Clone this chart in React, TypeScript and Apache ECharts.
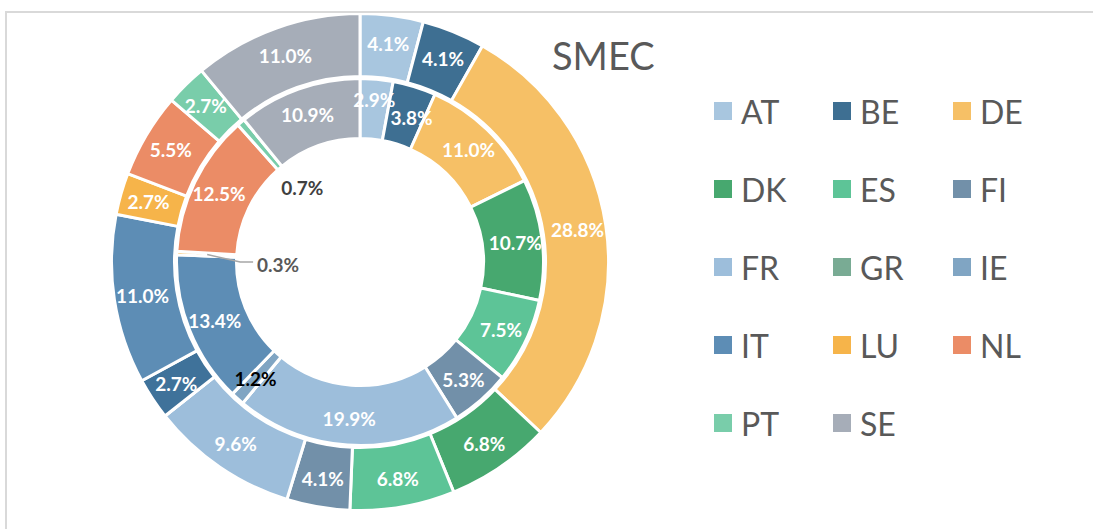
import React, { useEffect, useRef } from 'react';
import * as echarts from 'echarts';

const CATEGORIES = ['AT', 'BE', 'DE', 'DK', 'ES', 'FI', 'FR', 'GR', 'IE', 'IT', 'LU', 'NL', 'PT', 'SE'];
const OUTER_VALUES = [4.1, 4.1, 28.8, 6.8, 6.8, 4.1, 9.6, 0, 2.7, 11.0, 2.7, 5.5, 2.7, 11.0];
const INNER_VALUES = [2.9, 3.8, 11.0, 10.7, 7.5, 5.3, 19.9, 0, 1.2, 13.4, 0.3, 12.5, 0.7, 10.9];
const TITLE = 'SMEC';
const LEGEND_COLUMNS = [
  ['AT', 'DK', 'FR', 'IT', 'PT'],
  ['BE', 'ES', 'GR', 'LU', 'SE'],
  ['DE', 'FI', 'IE', 'NL'],
];

const COLORS: Record<string, string> = {
  AT: '#a8c6df',
  BE: '#3e6f92',
  DE: '#f6c066',
  DK: '#47a86f',
  ES: '#5dc497',
  FI: '#7290a9',
  FR: '#9dbedb',
  GR: '#79ab94',
  IE: '#80a5c3',
  IT: '#5d8db5',
  LU: '#f6b44a',
  NL: '#eb8c66',
  PT: '#79cdaa',
  SE: '#a6adb8',
};
const OUTER_COLOR_OVERRIDES: Record<string, string> = { IE: '#3f729a' };

const W = 1093;
const H = 529;
const CX = 360;
const CY = 262;
const FONT = 'Lato, "Noto Sans", sans-serif';
const TEXT_COLOR = '#595959';

const innerTotal = INNER_VALUES.reduce((a, b) => a + b, 0);
function innerMidAngle(i: number) {
  let s = 0;
  for (let j = 0; j < i; j++) s += INNER_VALUES[j];
  return ((s + INNER_VALUES[i] / 2) / innerTotal) * Math.PI * 2;
}
function pointAt(a: number, r: number): [number, number] {
  return [CX + r * Math.sin(a), CY - r * Math.cos(a)];
}

const fmt = (p: any) => `${Number(p.value).toFixed(1)}%`;

export default function App() {
  const ref = useRef<HTMLDivElement>(null);
  useEffect(() => {
    if (!ref.current) return;
    const chart = echarts.init(ref.current, null, { renderer: 'svg' });

    const atIdx = CATEGORIES.indexOf('AT');
    const beIdx = CATEGORIES.indexOf('BE');
    const luIdx = CATEGORIES.indexOf('LU');
    const ptIdx = CATEGORIES.indexOf('PT');

    const luAngle = innerMidAngle(luIdx);
    const luBase = pointAt(luAngle, 82);
    const luLabel: [number, number] = [luBase[0], luBase[1] + 6];
    const luStart = pointAt(luAngle, 153);
    const luLine = [luStart, [luStart[0] + 33, luLabel[1] - 2], [luLabel[0] - 25, luLabel[1] - 2]];

    const innerData = INNER_VALUES.map((v, i) => {
      const name = CATEGORIES[i];
      const item: any = { name, value: v, itemStyle: { color: COLORS[name] } };
      if (v === 0) item.label = { show: false };
      if (name === 'IE') item.label = { color: '#000000' };
      if (name === 'LU') item.label = { color: TEXT_COLOR };
      if (name === 'PT') item.label = { color: '#404040' };
      return item;
    });

    const outerData = OUTER_VALUES.map((v, i) => {
      const name = CATEGORIES[i];
      const item: any = {
        name,
        value: v,
        itemStyle: { color: OUTER_COLOR_OVERRIDES[name] || COLORS[name] },
      };
      if (v === 0) item.label = { show: false };
      return item;
    });

    const labelBase = {
      show: true,
      position: 'inside',
      formatter: fmt,
      color: '#ffffff',
      fontSize: 19,
      fontWeight: 'bold',
      fontFamily: FONT,
    };

    const option: any = {
      animation: false,
      backgroundColor: '#ffffff',
      title: {
        text: TITLE,
        left: 547,
        top: 31,
        textStyle: { fontSize: 38, fontWeight: 'normal', color: TEXT_COLOR, fontFamily: FONT },
      },
      legend: LEGEND_COLUMNS.map((col, k) => ({
        orient: 'vertical',
        left: [707, 826, 946][k],
        top: 90,
        itemWidth: 20,
        itemHeight: 20,
        itemGap: 46,
        icon: 'rect',
        selectedMode: false,
        data: col.map((n) => ({ name: n, itemStyle: { color: COLORS[n] } })),
        textStyle: { fontSize: 32, color: TEXT_COLOR, fontFamily: FONT, padding: [0, 0, 0, 3] },
      })),
      graphic: [
        {
          type: 'polyline',
          z: 100,
          silent: true,
          shape: { points: luLine },
          style: { stroke: '#a6a6a6', lineWidth: 1.5, fill: 'none' },
        },
      ],
      series: [
        {
          type: 'pie',
          name: 'inner',
          center: [CX, CY],
          radius: [123.5, 183.5],
          startAngle: 90,
          clockwise: true,
          avoidLabelOverlap: false,
          itemStyle: { borderColor: '#ffffff', borderWidth: 3 },
          label: labelBase,
          labelLine: { show: false },
          emphasis: { disabled: true },
          labelLayout: (params: any) => {
            if (params.dataIndex === luIdx) {
              return { x: luLabel[0], y: luLabel[1], align: 'center', verticalAlign: 'middle' };
            }
            if (params.dataIndex === ptIdx) {
              const [x, y] = pointAt(innerMidAngle(ptIdx), 95);
              return { x: x + 4, y: y - 2, align: 'center', verticalAlign: 'middle' };
            }
            if (params.dataIndex === atIdx) return { dy: -7 };
            if (params.dataIndex === beIdx) return { dx: 5, dy: 5 };
            return {};
          },
          data: innerData,
        },
        {
          type: 'pie',
          name: 'outer',
          center: [CX, CY],
          radius: [185.5, 248.5],
          startAngle: 90,
          clockwise: true,
          avoidLabelOverlap: false,
          itemStyle: { borderColor: '#ffffff', borderWidth: 3 },
          label: labelBase,
          labelLine: { show: false },
          emphasis: { disabled: true },
          data: outerData,
        },
      ],
    };
    chart.setOption(option);
    return () => chart.dispose();
  }, []);

  return (
    <div style={{ position: 'fixed', left: 0, top: 0, width: W, height: H, background: '#fff' }}>
      <div ref={ref} style={{ position: 'absolute', left: 0, top: 0, width: W, height: H }} />
      <div
        style={{
          position: 'absolute',
          left: 5,
          top: 11,
          width: W - 5,
          height: H - 11,
          borderTop: '2px solid #d9d9d9',
          borderLeft: '2px solid #d9d9d9',
          boxSizing: 'border-box',
          pointerEvents: 'none',
        }}
      />
    </div>
  );
}
